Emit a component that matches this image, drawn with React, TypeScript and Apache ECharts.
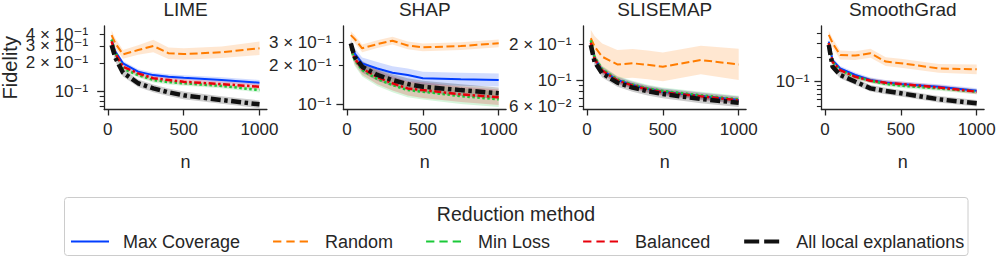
import React, { useEffect, useRef } from "react";
import * as echarts from "echarts";

// ---------- data ----------
const nValues = [25, 50, 100, 200, 300, 400, 500, 750, 1000];
const xTickValues = [0, 500, 1000];
const methodNames = ["Max Coverage", "Random", "Min Loss", "Balanced", "All local explanations"];
const panelTitles = ["LIME", "SHAP", "SLISEMAP", "SmoothGrad"];

// LIME (mean fidelity)
const limeMaxCoverage = [0.347, 0.262, 0.198, 0.162, 0.149, 0.1435, 0.14, 0.1325, 0.124];
const limeRandom = [0.39, 0.32, 0.245, 0.272, 0.3, 0.252, 0.247, 0.258, 0.284];
const limeMinLoss = [0.35, 0.255, 0.175, 0.149, 0.1325, 0.126, 0.1225, 0.1148, 0.104];
const limeBalanced = [0.335, 0.251, 0.182, 0.1555, 0.138, 0.1325, 0.127, 0.12, 0.1128];
const limeAllLocal = [0.307, 0.225, 0.158, 0.1225, 0.1084, 0.0986, 0.0917, 0.0819, 0.0738];
// LIME band half-widths (decades)
const limeMaxCoverageBand = [0.03, 0.03, 0.025, 0.025, 0.025, 0.025, 0.025, 0.028, 0.03];
const limeRandomBand = [0.05, 0.05, 0.045, 0.05, 0.065, 0.06, 0.06, 0.06, 0.07];
const limeMinLossBand = [0.03, 0.03, 0.025, 0.025, 0.025, 0.025, 0.025, 0.025, 0.025];
const limeBalancedBand = [0.03, 0.03, 0.03, 0.03, 0.03, 0.03, 0.03, 0.03, 0.03];
const limeAllLocalBand = [0.04, 0.04, 0.04, 0.04, 0.04, 0.04, 0.04, 0.04, 0.04];

// SHAP
const shapMaxCoverage = [0.285, 0.246, 0.206, 0.188, 0.1745, 0.1675, 0.158, 0.155, 0.153];
const shapRandom = [0.34, 0.318, 0.269, 0.29, 0.308, 0.283, 0.274, 0.28, 0.294];
const shapMinLoss = [0.27, 0.219, 0.183, 0.156, 0.14, 0.128, 0.1245, 0.115, 0.1087];
const shapBalanced = [0.277, 0.225, 0.188, 0.161, 0.1445, 0.132, 0.128, 0.119, 0.1126];
const shapAllLocal = [0.294, 0.232, 0.194, 0.1675, 0.153, 0.1425, 0.136, 0.128, 0.121];
const shapMaxCoverageBand = [0.03, 0.04, 0.045, 0.05, 0.05, 0.05, 0.05, 0.05, 0.05];
const shapRandomBand = [0.03, 0.03, 0.03, 0.03, 0.03, 0.03, 0.03, 0.03, 0.03];
const shapMinLossBand = [0.04, 0.045, 0.05, 0.055, 0.055, 0.055, 0.06, 0.06, 0.06];
const shapBalancedBand = [0.04, 0.045, 0.05, 0.055, 0.055, 0.055, 0.06, 0.06, 0.06];
const shapAllLocalBand = [0.035, 0.04, 0.045, 0.045, 0.045, 0.045, 0.045, 0.045, 0.045];

// SLISEMAP
const slisemapMaxCoverage = [0.209, 0.152, 0.121, 0.1, 0.0908, 0.0841, 0.0798, 0.0735, 0.068];
const slisemapRandom = [0.2235, 0.19, 0.1566, 0.135, 0.138, 0.134, 0.129, 0.147, 0.135];
const slisemapMinLoss = [0.215, 0.155, 0.123, 0.101, 0.092, 0.085, 0.081, 0.0745, 0.069];
const slisemapBalanced = [0.205, 0.15, 0.12, 0.099, 0.09, 0.0835, 0.079, 0.073, 0.0675];
const slisemapAllLocal = [0.196, 0.142, 0.1137, 0.095, 0.0865, 0.0805, 0.0764, 0.0694, 0.0646];
const slisemapMaxCoverageBand = [0.035, 0.03, 0.03, 0.03, 0.03, 0.03, 0.03, 0.03, 0.03];
const slisemapRandomBand = [0.07, 0.09, 0.11, 0.12, 0.12, 0.12, 0.12, 0.12, 0.13];
const slisemapMinLossBand = [0.035, 0.03, 0.03, 0.03, 0.03, 0.03, 0.03, 0.03, 0.03];
const slisemapBalancedBand = [0.035, 0.03, 0.03, 0.03, 0.03, 0.03, 0.03, 0.03, 0.03];
const slisemapAllLocalBand = [0.04, 0.035, 0.035, 0.035, 0.035, 0.035, 0.035, 0.035, 0.035];

// SmoothGrad
const smoothMaxCoverage = [0.312, 0.185, 0.146, 0.121, 0.105, 0.098, 0.0937, 0.0868, 0.0774];
const smoothRandom = [0.378, 0.3, 0.214, 0.21, 0.224, 0.177, 0.169, 0.146, 0.142];
const smoothMinLoss = [0.3, 0.176, 0.139, 0.115, 0.103, 0.094, 0.0893, 0.0828, 0.0753];
const smoothBalanced = [0.3, 0.176, 0.139, 0.115, 0.103, 0.097, 0.0937, 0.085, 0.0753];
const smoothAllLocal = [0.284, 0.153, 0.121, 0.1, 0.0828, 0.0768, 0.0719, 0.0607, 0.0541];
const smoothMaxCoverageBand = [0.035, 0.03, 0.03, 0.03, 0.03, 0.03, 0.03, 0.03, 0.03];
const smoothRandomBand = [0.05, 0.055, 0.055, 0.055, 0.055, 0.055, 0.055, 0.055, 0.06];
const smoothMinLossBand = [0.035, 0.03, 0.03, 0.03, 0.03, 0.03, 0.03, 0.03, 0.03];
const smoothBalancedBand = [0.035, 0.03, 0.03, 0.03, 0.03, 0.03, 0.03, 0.03, 0.03];
const smoothAllLocalBand = [0.04, 0.04, 0.04, 0.04, 0.04, 0.04, 0.04, 0.04, 0.04];

// y tick values / labels
const limeYMinorTicks = [0.07, 0.08, 0.09, 0.2, 0.3, 0.4];
const limeYLabelValues = [0.4, 0.3, 0.2, 0.1];
const limeYLabelTexts = ["4 × 10⁻¹", "3 × 10⁻¹", "2 × 10⁻¹", "10⁻¹"];
const shapYMinorTicks = [0.2, 0.3];
const shapYLabelValues = [0.3, 0.2, 0.1];
const shapYLabelTexts = ["3 × 10⁻¹", "2 × 10⁻¹", "10⁻¹"];
const slisemapYMinorTicks = [0.06, 0.07, 0.08, 0.09, 0.2];
const slisemapYLabelValues = [0.2, 0.1, 0.06];
const slisemapYLabelTexts = ["2 × 10⁻¹", "10⁻¹", "6 × 10⁻²"];
const smoothYMinorTicks = [0.05, 0.06, 0.07, 0.08, 0.09, 0.2, 0.3, 0.4];
const smoothYLabelValues = [0.1];
const smoothYLabelTexts = ["10⁻¹"];
const yMajorTicks = [0.1];

// ---------- styles / layout ----------
const FONT = "'Liberation Sans', Arial, 'DejaVu Sans', sans-serif";
const TEXT = "#262626";
const COLORS = ["#023eff", "#ff7c00", "#1ac938", "#e8000b", "#111111"];
const BAND_COLORS = [
  "rgba(2,62,255,0.18)",
  "rgba(255,124,0,0.18)",
  "rgba(26,201,56,0.18)",
  "rgba(232,0,11,0.18)",
  "rgba(0,0,0,0.2)",
];
const LINE_STYLES: any[] = [
  { width: 2, type: "solid" },
  { width: 2, type: [8, 3.5] },
  { width: 2.5, type: [2.5, 2.5] },
  { width: 2.5, type: [7, 2.5, 2.5, 2.5] },
  { width: 4.5, type: [10, 3.5, 3.5, 3.5] },
];
const LEGEND_LINE_STYLES: any[] = [
  { width: 2, type: "solid" },
  { width: 2, type: [8.3, 5] },
  { width: 2, type: [8.3, 5] },
  { width: 2, type: [8.3, 5] },
  { width: 4, type: [15, 5] },
];
const GRID_LEFTS = [104.2, 343.4, 583.4, 821.4];
const LABEL_MARGINS = [16, 12, 12, 12];
const GRID_TOP = 26;
const GRID_W = 162.7;
const GRID_H = 83.5;
const X_MIN = -23.75;
const X_MAX = 1048.75;

const panels = [
  {
    means: [limeMaxCoverage, limeRandom, limeMinLoss, limeBalanced, limeAllLocal],
    bands: [limeMaxCoverageBand, limeRandomBand, limeMinLossBand, limeBalancedBand, limeAllLocalBand],
    yMin: 0.0652, yMax: 0.485,
    minor: limeYMinorTicks, labelValues: limeYLabelValues, labelTexts: limeYLabelTexts,
  },
  {
    means: [shapMaxCoverage, shapRandom, shapMinLoss, shapBalanced, shapAllLocal],
    bands: [shapMaxCoverageBand, shapRandomBand, shapMinLossBand, shapBalancedBand, shapAllLocalBand],
    yMin: 0.0907, yMax: 0.4,
    minor: shapYMinorTicks, labelValues: shapYLabelValues, labelTexts: shapYLabelTexts,
  },
  {
    means: [slisemapMaxCoverage, slisemapRandom, slisemapMinLoss, slisemapBalanced, slisemapAllLocal],
    bands: [slisemapMaxCoverageBand, slisemapRandomBand, slisemapMinLossBand, slisemapBalancedBand, slisemapAllLocalBand],
    yMin: 0.0567, yMax: 0.2828,
    minor: slisemapYMinorTicks, labelValues: slisemapYLabelValues, labelTexts: slisemapYLabelTexts,
  },
  {
    means: [smoothMaxCoverage, smoothRandom, smoothMinLoss, smoothBalanced, smoothAllLocal],
    bands: [smoothMaxCoverageBand, smoothRandomBand, smoothMinLossBand, smoothBalancedBand, smoothAllLocalBand],
    yMin: 0.0454, yMax: 0.487,
    minor: smoothYMinorTicks, labelValues: smoothYLabelValues, labelTexts: smoothYLabelTexts,
  },
];

function lookupLabel(val: number, values: number[], texts: string[]): string {
  for (let i = 0; i < values.length; i++) {
    if (Math.abs(Math.log10(val) - Math.log10(values[i])) < 0.005) return texts[i];
  }
  return "";
}

function buildOption() {
  const grid = GRID_LEFTS.map((l) => ({
    left: l, top: GRID_TOP, width: GRID_W, height: GRID_H,
    containLabel: false, outerBoundsMode: "none",
  }));

  const xAxis = GRID_LEFTS.map((_, i) => ({
    type: "value",
    gridIndex: i,
    min: X_MIN,
    max: X_MAX,
    name: "n",
    nameLocation: "middle",
    nameGap: 43,
    nameTextStyle: { fontSize: 18, color: TEXT, fontFamily: FONT },
    axisLine: { show: true, onZero: false, lineStyle: { color: TEXT, width: 1.3 } },
    axisTick: { show: true, customValues: xTickValues, length: 6, lineStyle: { color: TEXT, width: 1.3 } },
    axisLabel: {
      show: true, customValues: xTickValues, margin: 11, fontSize: 17, color: TEXT, fontFamily: FONT,
      hideOverlap: false, showMinLabel: true, showMaxLabel: true,
      formatter: (v: number) => String(Math.round(v)),
    },
    splitLine: { show: false },
  }));

  const yAxis: any[] = [];
  panels.forEach((p, i) => {
    // labels split over two co-located axes so that ECharts does not drop overlapping ones
    const evenLabels = p.labelValues.filter((_, j) => j % 2 === 0);
    const oddLabels = p.labelValues.filter((_, j) => j % 2 === 1);
    const labelCommon = {
      margin: LABEL_MARGINS[i],
      fontSize: 17,
      color: TEXT,
      fontFamily: FONT,
      hideOverlap: false,
      showMinLabel: true,
      showMaxLabel: true,
      formatter: (v: number) => lookupLabel(v, p.labelValues, p.labelTexts),
    };
    yAxis.push({
      type: "log",
      logBase: 10,
      gridIndex: i,
      min: p.yMin,
      max: p.yMax,
      position: "left",
      offset: 0,
      name: i === 0 ? "Fidelity" : "",
      nameLocation: "middle",
      nameGap: 84,
      nameTextStyle: { fontSize: 20, color: TEXT, fontFamily: FONT },
      axisLine: { show: true, onZero: false, lineStyle: { color: TEXT, width: 1.3 } },
      axisTick: { show: true, customValues: p.minor, length: 4.5, lineStyle: { color: TEXT, width: 1.1 } },
      axisLabel: { show: true, customValues: evenLabels, ...labelCommon },
      splitLine: { show: false },
      minorTick: { show: false },
    });
    yAxis.push({
      type: "log",
      logBase: 10,
      gridIndex: i,
      min: p.yMin,
      max: p.yMax,
      position: "left",
      offset: 0,
      axisLine: { show: false, onZero: false },
      axisTick: { show: true, customValues: yMajorTicks, length: 7, lineStyle: { color: TEXT, width: 1.3 } },
      axisLabel: oddLabels.length
        ? { show: true, customValues: oddLabels, ...labelCommon }
        : { show: false },
      splitLine: { show: false },
    });
  });

  const series: any[] = [];
  panels.forEach((p, i) => {
    methodNames.forEach((name, k) => {
      const vals = p.means[k];
      const spread = p.bands[k];
      const lower = vals.map((v, j) => v / Math.pow(10, spread[j]));
      const upper = vals.map((v, j) => v * Math.pow(10, spread[j]));
      series.push({
        type: "custom",
        name: `${name} band`,
        xAxisIndex: i,
        yAxisIndex: 2 * i,
        data: nValues.map((n, j) => [n, lower[j], upper[j]]),
        encode: { x: 0, y: [1, 2] },
        silent: true,
        z: 2,
        renderItem: (params: any, api: any) => {
          if (params.dataIndex !== 0) return null;
          const top = nValues.map((n, j) => api.coord([n, upper[j]]));
          const bottom = nValues.map((n, j) => api.coord([n, lower[j]])).reverse();
          return {
            type: "polygon",
            shape: { points: top.concat(bottom) },
            style: { fill: BAND_COLORS[k], stroke: "none" },
          };
        },
      });
      series.push({
        type: "line",
        name,
        xAxisIndex: i,
        yAxisIndex: 2 * i,
        data: nValues.map((n, j) => [n, vals[j]]),
        symbol: "none",
        color: COLORS[k],
        lineStyle: { ...LINE_STYLES[k], color: COLORS[k], cap: "butt" },
        itemStyle: { color: COLORS[k] },
        z: 2,
      });
    });
  });

  const graphic: any[] = [
    {
      type: "rect",
      shape: { x: 64.5, y: 197.5, width: 903.5, height: 58, r: 3 },
      style: { fill: "#ffffff", stroke: "#cccccc", lineWidth: 1 },
      z: 0,
      silent: true,
    },
    {
      type: "text",
      x: 516,
      y: 213.5,
      style: {
        text: "Reduction method",
        fill: TEXT,
        font: `19.5px ${FONT}`,
        textAlign: "center",
        textVerticalAlign: "middle",
      },
      z: 1,
    },
    ...panelTitles.map((t, i) => ({
      type: "text",
      x: GRID_LEFTS[i] + GRID_W / 2,
      y: 0,
      style: {
        text: t,
        fill: TEXT,
        font: `19px ${FONT}`,
        textAlign: "center",
        textVerticalAlign: "top",
      },
    })),
  ];

  return {
    animation: false,
    backgroundColor: "#ffffff",
    textStyle: { fontFamily: FONT },
    grid,
    xAxis,
    yAxis,
    series,
    graphic,
    legend: {
      data: methodNames.map((name, k) => ({ name, lineStyle: LEGEND_LINE_STYLES[k] })),
      left: 70,
      top: 232.5,
      padding: 0,
      itemWidth: 38,
      itemHeight: 14,
      itemGap: 32,
      itemStyle: { opacity: 0 },
      selectedMode: false,
      textStyle: { fontSize: 18, color: TEXT, fontFamily: FONT, padding: [0, 0, 0, 9] },
      z: 5,
    },
  };
}

export default function App() {
  const ref = useRef<HTMLDivElement>(null);
  useEffect(() => {
    document.body.style.margin = "0";
    const chart = echarts.init(ref.current as HTMLDivElement, null, { renderer: "svg" });
    chart.setOption(buildOption() as any);
    return () => chart.dispose();
  }, []);
  return (
    <div
      ref={ref}
      style={{ position: "absolute", left: 0, top: 0, width: 997, height: 257 }}
    />
  );
}
